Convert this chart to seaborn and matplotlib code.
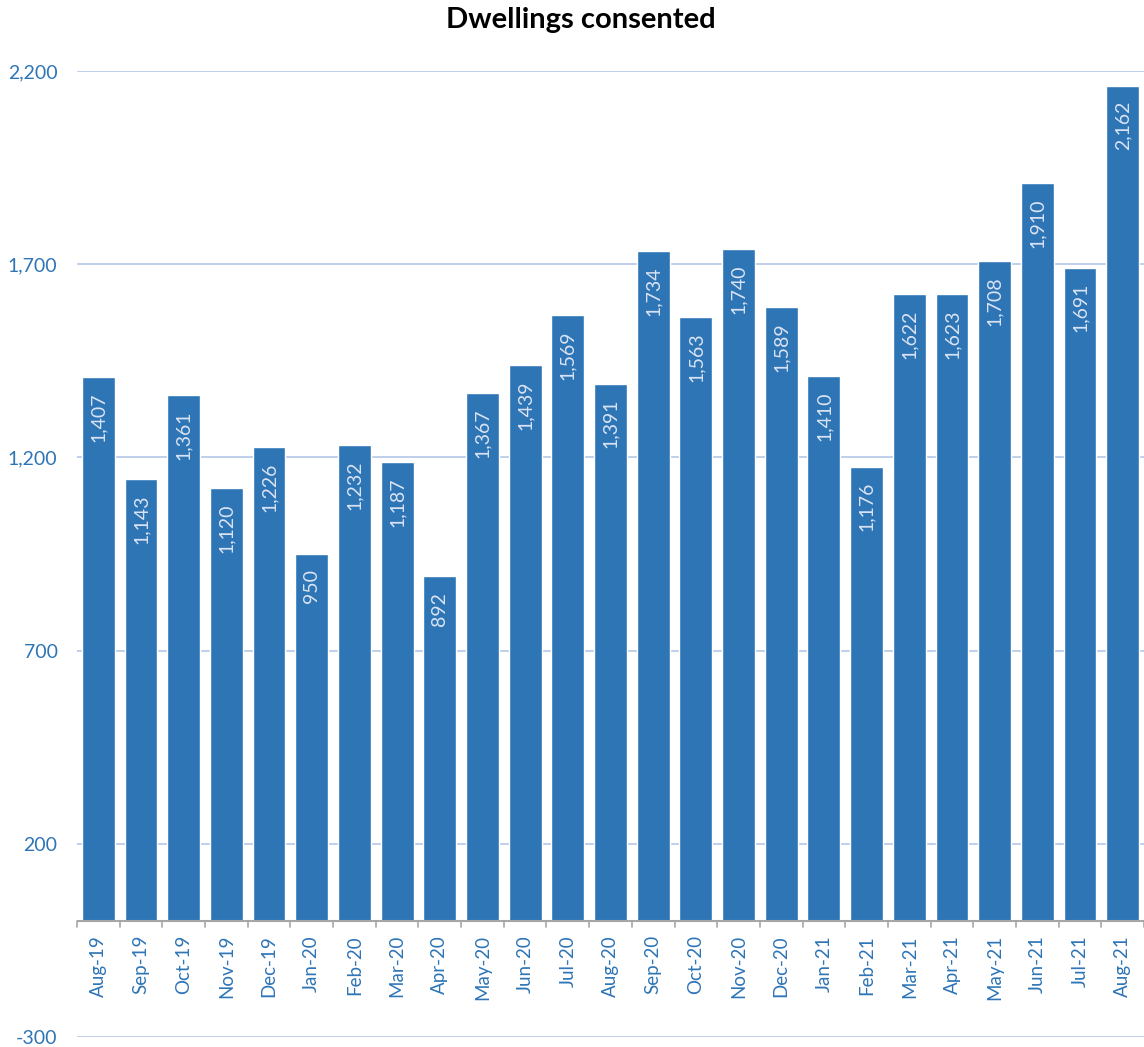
import numpy as np
import pandas as pd
import matplotlib
matplotlib.use("Agg")
import matplotlib.pyplot as plt
import seaborn as sns
from matplotlib.ticker import FuncFormatter, FixedLocator

# Monthly dwellings consented
months = ['Aug-19', 'Sep-19', 'Oct-19', 'Nov-19', 'Dec-19', 'Jan-20', 'Feb-20',
          'Mar-20', 'Apr-20', 'May-20', 'Jun-20', 'Jul-20', 'Aug-20', 'Sep-20',
          'Oct-20', 'Nov-20', 'Dec-20', 'Jan-21', 'Feb-21', 'Mar-21', 'Apr-21',
          'May-21', 'Jun-21', 'Jul-21', 'Aug-21']
consents = [1407, 1143, 1361, 1120, 1226, 950, 1232, 1187, 892, 1367, 1439,
            1569, 1391, 1734, 1563, 1740, 1589, 1410, 1176, 1622, 1623, 1708,
            1910, 1691, 2162]
y_ticks = [-300, 200, 700, 1200, 1700, 2200]

df = pd.DataFrame({'month': months, 'consents': consents})

bar_color = '#2E75B6'
text_color = '#2E75B6'
grid_color = '#B4C7E7'

sns.set_style('white')
plt.rcParams['font.family'] = ['Lato', 'DejaVu Sans']

fig = plt.figure(figsize=(11.44, 10.47), dpi=100)
ax = fig.add_axes([0.0673, 0.0095, 0.9327, 0.9227])

sns.barplot(data=df, x='month', y='consents', color=bar_color, width=0.77,
            saturation=1, ax=ax, zorder=3)

ax.set_ylim(-300, 2200)
ax.set_xlim(-0.5, len(months) - 0.5)
ax.yaxis.set_major_locator(FixedLocator(y_ticks))
ax.yaxis.set_major_formatter(FuncFormatter(lambda v, p: f'{int(v):,}'))
ax.grid(axis='y', color=grid_color, linewidth=1.2, zorder=0)
ax.grid(axis='x', visible=False)
for s in ax.spines.values():
    s.set_visible(False)

# category axis at zero with tick marks between bars
ax.axhline(0, color='#A6A6A6', linewidth=1.5, zorder=4)
for xb in np.arange(-0.5, len(months), 1.0):
    ax.plot([xb, xb], [0, -16], color='#A6A6A6', linewidth=1.2, zorder=4,
            clip_on=False)

ax.set_xticklabels([])
ax.tick_params(axis='x', length=0)
ax.tick_params(axis='y', length=0, labelsize=14, labelcolor=text_color, pad=14)
for i, m in enumerate(months):
    ax.annotate(m, xy=(i, 0), xytext=(0, -10), textcoords='offset points',
                rotation=90, ha='center', va='top', fontsize=13.5,
                color=text_color)

ax.set_xlabel('')
ax.set_ylabel('')

for i, v in enumerate(consents):
    ax.annotate(f'{v:,}', xy=(i, v), xytext=(0, -11), textcoords='offset points',
                rotation=90, ha='center', va='top', fontsize=14,
                color='#DAE3F3', zorder=5)

fig.suptitle('Dwellings consented', fontsize=21, fontweight='bold', y=0.993,
             x=0.508, color='black')

fig.savefig('out.png', dpi=100)
